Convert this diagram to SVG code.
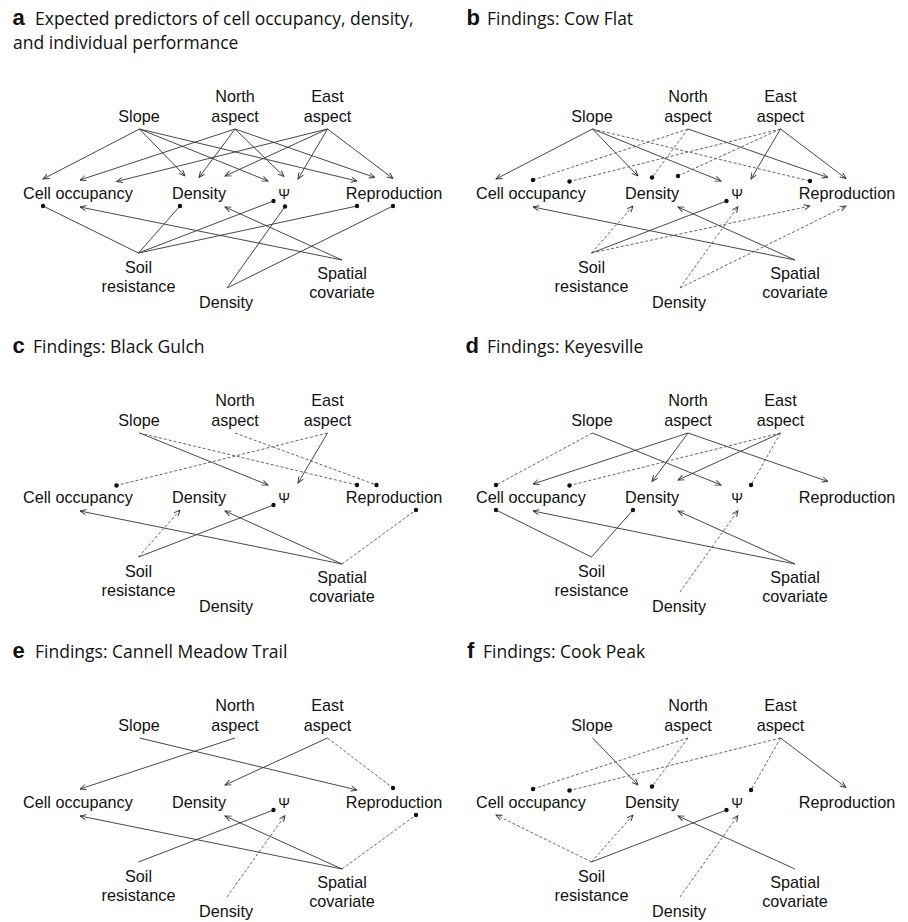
<svg xmlns="http://www.w3.org/2000/svg" width="908" height="922" viewBox="0 0 908 922">
<style>
.lbl{font-family:"Liberation Sans",Arial,sans-serif;font-size:16.2px;fill:#111;text-anchor:middle}
.st{text-anchor:start}
.psi{font-size:14px}
.ttl{font-family:"Open Sans","Liberation Sans",sans-serif;font-size:17.5px;fill:#111}
.let{font-family:"Liberation Sans",Arial,sans-serif;font-weight:bold;font-size:22px;fill:#111}
.e{fill:none;stroke:#333;stroke-width:0.9}
.d{stroke-dasharray:3 2;stroke:#555}
.ar{marker-end:url(#arr)}
.dt{marker-end:url(#dot)}
</style>
<defs>
<marker id="arr" markerUnits="userSpaceOnUse" markerWidth="8" markerHeight="8" viewBox="-7 -4 8 8" refX="0" refY="0" orient="auto" overflow="visible">
<path d="M-6,-2.6 L0,0 L-6,2.6" fill="none" stroke="#333" stroke-width="0.9"/>
</marker>
<marker id="dot" markerUnits="userSpaceOnUse" markerWidth="6" markerHeight="6" viewBox="-3 -3 6 6" refX="0" refY="0" overflow="visible">
<circle r="2.2" fill="#111"/>
</marker>
</defs>

<!-- Titles -->
<g id="title-a"><text class="let" x="12.5" y="25">a</text><text class="ttl" x="35" y="25">Expected predictors of cell occupancy, density,</text><text class="ttl" x="13" y="49">and individual performance</text></g>
<g id="title-b"><text class="let" x="466.5" y="25">b</text><text class="ttl" x="487" y="25">Findings: Cow Flat</text></g>
<g id="title-c"><text class="let" x="12.5" y="353">c</text><text class="ttl" x="33" y="353">Findings: Black Gulch</text></g>
<g id="title-d"><text class="let" x="465.5" y="353">d</text><text class="ttl" x="487" y="353">Findings: Keyesville</text></g>
<g id="title-e"><text class="let" x="12.5" y="658">e</text><text class="ttl" x="35" y="658">Findings: Cannell Meadow Trail</text></g>
<g id="title-f"><text class="let" x="467" y="658">f</text><text class="ttl" x="483" y="658">Findings: Cook Peak</text></g>

<!-- Panel a -->
<g id="panel-a">
<g id="a-slope"><text class="lbl" x="139" y="122">Slope</text></g>
<g id="a-north"><text class="lbl" x="235" y="102">North</text><text class="lbl" x="235" y="122">aspect</text></g>
<g id="a-east"><text class="lbl" x="327.5" y="102">East</text><text class="lbl" x="327.5" y="122">aspect</text></g>
<g id="a-occupancy"><text class="lbl st" x="23" y="199">Cell occupancy</text></g>
<g id="a-density"><text class="lbl" x="199" y="199">Density</text></g>
<g id="a-psi"><text class="lbl psi" x="284" y="199">Ψ</text></g>
<g id="a-reproduction"><text class="lbl" x="394" y="199">Reproduction</text></g>
<g id="a-soil"><text class="lbl" x="138.5" y="273">Soil</text><text class="lbl" x="138.5" y="292">resistance</text></g>
<g id="a-spatial"><text class="lbl" x="342" y="279">Spatial</text><text class="lbl" x="342" y="298">covariate</text></g>
<g id="a-density2"><text class="lbl" x="226" y="308">Density</text></g>
<g id="a-connectors">
<line class="e ar" x1="139.5" y1="129" x2="43" y2="179"/>
<line class="e ar" x1="139.5" y1="129" x2="185" y2="176"/>
<line class="e ar" x1="139.5" y1="129" x2="268" y2="181"/>
<line class="e ar" x1="139.5" y1="129" x2="357" y2="181"/>
<line class="e ar" x1="235" y1="129" x2="80" y2="180"/>
<line class="e ar" x1="235" y1="129" x2="199" y2="177.5"/>
<line class="e ar" x1="235" y1="129" x2="284" y2="176.5"/>
<line class="e ar" x1="235" y1="129" x2="375" y2="177.5"/>
<line class="e ar" x1="327.5" y1="129" x2="116.5" y2="181.5"/>
<line class="e ar" x1="327.5" y1="129" x2="225" y2="176"/>
<line class="e ar" x1="327.5" y1="129" x2="298" y2="179"/>
<line class="e ar" x1="327.5" y1="129" x2="393" y2="178.5"/>
<line class="e dt" x1="138.5" y1="253" x2="43" y2="206"/>
<line class="e dt" x1="138.5" y1="253" x2="180" y2="206"/>
<line class="e dt" x1="138.5" y1="253" x2="273.5" y2="201"/>
<line class="e dt" x1="138.5" y1="253" x2="357" y2="206"/>
<line class="e ar" x1="342" y1="260" x2="80" y2="207"/>
<line class="e ar" x1="342" y1="260" x2="225" y2="207"/>
<line class="e dt" x1="227" y1="288" x2="285" y2="206.5"/>
<line class="e dt" x1="227" y1="288" x2="393" y2="206"/>
</g>
</g>

<!-- Panel b -->
<g id="panel-b" transform="translate(453,0)">
<g id="b-slope"><text class="lbl" x="139" y="122">Slope</text></g>
<g id="b-north"><text class="lbl" x="235" y="102">North</text><text class="lbl" x="235" y="122">aspect</text></g>
<g id="b-east"><text class="lbl" x="327.5" y="102">East</text><text class="lbl" x="327.5" y="122">aspect</text></g>
<g id="b-occupancy"><text class="lbl st" x="23" y="199">Cell occupancy</text></g>
<g id="b-density"><text class="lbl" x="199" y="199">Density</text></g>
<g id="b-psi"><text class="lbl psi" x="284" y="199">Ψ</text></g>
<g id="b-reproduction"><text class="lbl" x="394" y="199">Reproduction</text></g>
<g id="b-soil"><text class="lbl" x="138.5" y="273">Soil</text><text class="lbl" x="138.5" y="292">resistance</text></g>
<g id="b-spatial"><text class="lbl" x="342" y="279">Spatial</text><text class="lbl" x="342" y="298">covariate</text></g>
<g id="b-density2"><text class="lbl" x="226" y="308">Density</text></g>
<g id="b-connectors">
<line class="e ar" x1="139.5" y1="129" x2="43" y2="179"/>
<line class="e ar" x1="139.5" y1="129" x2="185" y2="176"/>
<line class="e ar" x1="139.5" y1="129" x2="268" y2="181"/>
<line class="e d dt" x1="139.5" y1="129" x2="357" y2="181"/>
<line class="e d dt" x1="235" y1="129" x2="80" y2="180"/>
<line class="e d dt" x1="235" y1="129" x2="199" y2="177.5"/>
<line class="e ar" x1="235" y1="129" x2="375" y2="177.5"/>
<line class="e d dt" x1="327.5" y1="129" x2="116.5" y2="181.5"/>
<line class="e d dt" x1="327.5" y1="129" x2="225" y2="176"/>
<line class="e ar" x1="327.5" y1="129" x2="298" y2="179"/>
<line class="e ar" x1="327.5" y1="129" x2="393" y2="178.5"/>
<line class="e d ar" x1="138.5" y1="253" x2="180" y2="206"/>
<line class="e dt" x1="138.5" y1="253" x2="273.5" y2="201"/>
<line class="e d ar" x1="138.5" y1="253" x2="357" y2="206"/>
<line class="e ar" x1="342" y1="260" x2="80" y2="207"/>
<line class="e ar" x1="342" y1="260" x2="225" y2="207"/>
<line class="e d ar" x1="227" y1="288" x2="285" y2="206.5"/>
<line class="e d ar" x1="227" y1="288" x2="393" y2="206"/>
</g>
</g>

<!-- Panel c -->
<g id="panel-c" transform="translate(0,304)">
<g id="c-slope"><text class="lbl" x="139" y="122">Slope</text></g>
<g id="c-north"><text class="lbl" x="235" y="102">North</text><text class="lbl" x="235" y="122">aspect</text></g>
<g id="c-east"><text class="lbl" x="327.5" y="102">East</text><text class="lbl" x="327.5" y="122">aspect</text></g>
<g id="c-occupancy"><text class="lbl st" x="23" y="199">Cell occupancy</text></g>
<g id="c-density"><text class="lbl" x="199" y="199">Density</text></g>
<g id="c-psi"><text class="lbl psi" x="284" y="199">Ψ</text></g>
<g id="c-reproduction"><text class="lbl" x="394" y="199">Reproduction</text></g>
<g id="c-soil"><text class="lbl" x="138.5" y="273">Soil</text><text class="lbl" x="138.5" y="292">resistance</text></g>
<g id="c-spatial"><text class="lbl" x="342" y="279">Spatial</text><text class="lbl" x="342" y="298">covariate</text></g>
<g id="c-density2"><text class="lbl" x="226" y="308">Density</text></g>
<g id="c-connectors">
<line class="e ar" x1="139.5" y1="129" x2="268" y2="181"/>
<line class="e d dt" x1="139.5" y1="129" x2="357" y2="181"/>
<line class="e d dt" x1="235" y1="129" x2="376.5" y2="181"/>
<line class="e d dt" x1="327.5" y1="129" x2="116.5" y2="181.5"/>
<line class="e ar" x1="327.5" y1="129" x2="298" y2="179"/>
<line class="e d ar" x1="138.5" y1="253" x2="180" y2="206"/>
<line class="e dt" x1="138.5" y1="253" x2="273.5" y2="201"/>
<line class="e ar" x1="342" y1="260" x2="80" y2="207"/>
<line class="e ar" x1="342" y1="260" x2="225" y2="207"/>
<line class="e d dt" x1="342" y1="260" x2="416" y2="206"/>
</g>
</g>

<!-- Panel d -->
<g id="panel-d" transform="translate(453,304)">
<g id="d-slope"><text class="lbl" x="139" y="122">Slope</text></g>
<g id="d-north"><text class="lbl" x="235" y="102">North</text><text class="lbl" x="235" y="122">aspect</text></g>
<g id="d-east"><text class="lbl" x="327.5" y="102">East</text><text class="lbl" x="327.5" y="122">aspect</text></g>
<g id="d-occupancy"><text class="lbl st" x="23" y="199">Cell occupancy</text></g>
<g id="d-density"><text class="lbl" x="199" y="199">Density</text></g>
<g id="d-psi"><text class="lbl psi" x="284" y="199">Ψ</text></g>
<g id="d-reproduction"><text class="lbl" x="394" y="199">Reproduction</text></g>
<g id="d-soil"><text class="lbl" x="138.5" y="273">Soil</text><text class="lbl" x="138.5" y="292">resistance</text></g>
<g id="d-spatial"><text class="lbl" x="342" y="279">Spatial</text><text class="lbl" x="342" y="298">covariate</text></g>
<g id="d-density2"><text class="lbl" x="226" y="308">Density</text></g>
<g id="d-connectors">
<line class="e d dt" x1="139.5" y1="129" x2="43" y2="181"/>
<line class="e ar" x1="139.5" y1="129" x2="268" y2="181"/>
<line class="e ar" x1="235" y1="129" x2="80" y2="180"/>
<line class="e ar" x1="235" y1="129" x2="199" y2="177.5"/>
<line class="e ar" x1="235" y1="129" x2="375" y2="177.5"/>
<line class="e d dt" x1="327.5" y1="129" x2="116.5" y2="181.5"/>
<line class="e ar" x1="327.5" y1="129" x2="225" y2="176"/>
<line class="e d dt" x1="327.5" y1="129" x2="298" y2="181"/>
<line class="e dt" x1="138.5" y1="253" x2="43" y2="206"/>
<line class="e dt" x1="138.5" y1="253" x2="180" y2="206"/>
<line class="e ar" x1="342" y1="260" x2="80" y2="207"/>
<line class="e ar" x1="342" y1="260" x2="225" y2="207"/>
<line class="e d ar" x1="227" y1="288" x2="285" y2="206.5"/>
</g>
</g>

<!-- Panel e -->
<g id="panel-e" transform="translate(0,609)">
<g id="e-slope"><text class="lbl" x="139" y="122">Slope</text></g>
<g id="e-north"><text class="lbl" x="235" y="102">North</text><text class="lbl" x="235" y="122">aspect</text></g>
<g id="e-east"><text class="lbl" x="327.5" y="102">East</text><text class="lbl" x="327.5" y="122">aspect</text></g>
<g id="e-occupancy"><text class="lbl st" x="23" y="199">Cell occupancy</text></g>
<g id="e-density"><text class="lbl" x="199" y="199">Density</text></g>
<g id="e-psi"><text class="lbl psi" x="284" y="199">Ψ</text></g>
<g id="e-reproduction"><text class="lbl" x="394" y="199">Reproduction</text></g>
<g id="e-soil"><text class="lbl" x="138.5" y="273">Soil</text><text class="lbl" x="138.5" y="292">resistance</text></g>
<g id="e-spatial"><text class="lbl" x="342" y="279">Spatial</text><text class="lbl" x="342" y="298">covariate</text></g>
<g id="e-density2"><text class="lbl" x="226" y="308">Density</text></g>
<g id="e-connectors">
<line class="e ar" x1="139.5" y1="129" x2="357" y2="181"/>
<line class="e ar" x1="235" y1="129" x2="80" y2="180"/>
<line class="e ar" x1="327.5" y1="129" x2="225" y2="176"/>
<line class="e d dt" x1="327.5" y1="129" x2="393" y2="179"/>
<line class="e dt" x1="138.5" y1="253" x2="273.5" y2="201"/>
<line class="e ar" x1="342" y1="260" x2="80" y2="207"/>
<line class="e ar" x1="342" y1="260" x2="225" y2="207"/>
<line class="e d dt" x1="342" y1="260" x2="416" y2="206"/>
<line class="e d ar" x1="227" y1="288" x2="285" y2="206.5"/>
</g>
</g>

<!-- Panel f -->
<g id="panel-f" transform="translate(453,609)">
<g id="f-slope"><text class="lbl" x="139" y="122">Slope</text></g>
<g id="f-north"><text class="lbl" x="235" y="102">North</text><text class="lbl" x="235" y="122">aspect</text></g>
<g id="f-east"><text class="lbl" x="327.5" y="102">East</text><text class="lbl" x="327.5" y="122">aspect</text></g>
<g id="f-occupancy"><text class="lbl st" x="23" y="199">Cell occupancy</text></g>
<g id="f-density"><text class="lbl" x="199" y="199">Density</text></g>
<g id="f-psi"><text class="lbl psi" x="284" y="199">Ψ</text></g>
<g id="f-reproduction"><text class="lbl" x="394" y="199">Reproduction</text></g>
<g id="f-soil"><text class="lbl" x="138.5" y="273">Soil</text><text class="lbl" x="138.5" y="292">resistance</text></g>
<g id="f-spatial"><text class="lbl" x="342" y="279">Spatial</text><text class="lbl" x="342" y="298">covariate</text></g>
<g id="f-density2"><text class="lbl" x="226" y="308">Density</text></g>
<g id="f-connectors">
<line class="e ar" x1="139.5" y1="129" x2="185" y2="176"/>
<line class="e d dt" x1="235" y1="129" x2="80" y2="180"/>
<line class="e d dt" x1="235" y1="129" x2="199" y2="177.5"/>
<line class="e d dt" x1="327.5" y1="129" x2="116.5" y2="181.5"/>
<line class="e d dt" x1="327.5" y1="129" x2="298" y2="181"/>
<line class="e ar" x1="327.5" y1="129" x2="393" y2="178.5"/>
<line class="e d ar" x1="138.5" y1="253" x2="43" y2="206"/>
<line class="e d ar" x1="138.5" y1="253" x2="180" y2="206"/>
<line class="e dt" x1="138.5" y1="253" x2="273.5" y2="201"/>
<line class="e ar" x1="342" y1="260" x2="225" y2="207"/>
<line class="e d ar" x1="227" y1="288" x2="285" y2="206.5"/>
</g>
</g>
</svg>
